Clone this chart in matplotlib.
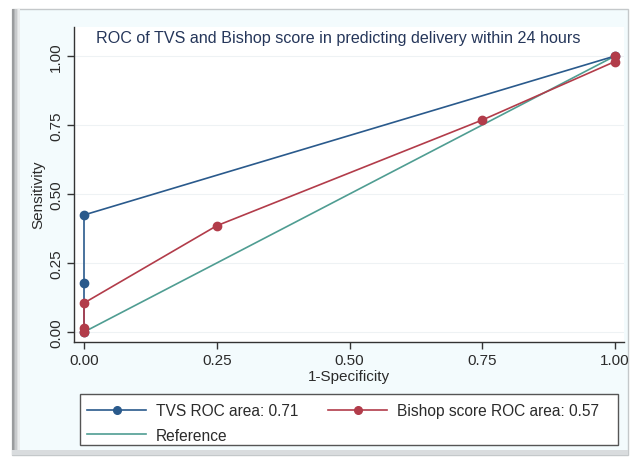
import matplotlib
matplotlib.use("Agg")
import matplotlib.pyplot as plt
from matplotlib.patches import Rectangle
from matplotlib.lines import Line2D

# ---- DATA ----
tvs_fpr = [0.0, 0.0, 0.0, 1.0]
tvs_sens = [0.0, 0.178, 0.424, 1.0]

bishop_fpr = [0.0, 0.0, 0.0, 0.25, 0.75, 1.0, 1.0]
bishop_sens = [0.0, 0.015, 0.105, 0.385, 0.768, 0.98, 1.0]

ref_x = [0.0, 1.0]
ref_y = [0.0, 1.0]

ticks = [0.0, 0.25, 0.5, 0.75, 1.0]
tick_labels = ["0.00", "0.25", "0.50", "0.75", "1.00"]

tvs_label = "TVS ROC area: 0.71"
bishop_label = "Bishop score ROC area: 0.57"
ref_label = "Reference"

# ---- STYLE ----
plt.rcParams["font.family"] = ["Liberation Sans", "DejaVu Sans"]
W, H = 630, 460
c_tvs = "#2a5a8c"
c_bishop = "#b23c4a"
c_ref = "#4f9d92"
c_text = "#2b2b2b"

fig = plt.figure(figsize=(W / 100, H / 100), dpi=100, facecolor="white")


def px(x0, y0, x1, y1):
    # pixel box (top-left origin) -> figure fraction rect
    return [x0 / W, 1 - y1 / H, (x1 - x0) / W, (y1 - y0) / H]


# ---- OUTER FRAME ----
bg = fig.add_axes(px(0, 0, W, H), zorder=-10)
bg.set_xlim(0, W)
bg.set_ylim(H, 0)
bg.axis("off")
bg.add_patch(Rectangle((12, 10), 616, 446, facecolor="#f3fbfd",
                       edgecolor="#c4c8ca", lw=1.0))
for i, col in enumerate(["#9a9c9e", "#b2b4b6", "#c8cacc", "#dcdedf", "#eaeced"]):
    bg.add_patch(Rectangle((12 + i * 1.5, 10), 1.5, 446, facecolor=col, lw=0))
bg.add_patch(Rectangle((12, 451), 616, 5, facecolor="#d9dcde", lw=0))
# legend box
bg.add_patch(Rectangle((80, 395), 538, 51, facecolor="white",
                       edgecolor="#555555", lw=1.0))

# ---- PLOT ----
ax = fig.add_axes(px(74, 28, 624, 343))
ax.set_facecolor("white")

ax.plot(ref_x, ref_y, color=c_ref, lw=1.2, zorder=2)
ax.plot(tvs_fpr, tvs_sens, color=c_tvs, lw=1.2, marker="o", ms=6,
        mec=c_tvs, mfc=c_tvs, zorder=3)
ax.plot(bishop_fpr, bishop_sens, color=c_bishop, lw=1.2, marker="o", ms=6,
        mec=c_bishop, mfc=c_bishop, zorder=4)

ax.set_xlim(-10 / 531, 540 / 531)
ax.set_ylim(-10 / 276, 1 + 29 / 276)

ax.set_xticks(ticks)
ax.set_xticklabels(tick_labels)
ax.set_yticks(ticks)
ax.set_yticklabels(tick_labels, rotation=90, va="center")
ax.tick_params(axis="both", length=5, width=1, color="#333333",
               labelsize=11, labelcolor=c_text, pad=3)

ax.grid(axis="y", color="#eef2f4", lw=0.8)
ax.set_axisbelow(True)

for side in ["top", "right"]:
    ax.spines[side].set_visible(False)
for side in ["left", "bottom"]:
    ax.spines[side].set_color("#333333")
    ax.spines[side].set_linewidth(1.0)

ax.set_xlabel("1-Specificity", fontsize=11, color=c_text, labelpad=1)
ax.set_ylabel("Sensitivity", fontsize=11, color=c_text)
ax.yaxis.set_label_coords(-0.052, 0.47)

fig.text(338 / W, 1 - 38 / H,
         "ROC of TVS and Bishop score in predicting delivery within 24 hours",
         ha="center", va="center", fontsize=11.6, color="#25365a")

# ---- LEGEND ----
handles = [
    Line2D([], [], color=c_tvs, lw=1.2, marker="o", ms=5.5),
    Line2D([], [], color=c_ref, lw=1.2),
    Line2D([], [], color=c_bishop, lw=1.2, marker="o", ms=5.5),
]
labels = [tvs_label, ref_label, bishop_label]
leg = fig.legend(handles, labels, ncol=2, loc="upper left",
                 bbox_to_anchor=(87 / W, 1 - 404 / H),
                 fontsize=11.2, frameon=False,
                 handlelength=3.8, handletextpad=0.65, columnspacing=1.9,
                 labelspacing=0.62, borderpad=0.0, borderaxespad=0)
for t in leg.get_texts():
    t.set_color(c_text)

fig.savefig("out.png", dpi=100, facecolor=fig.get_facecolor())
